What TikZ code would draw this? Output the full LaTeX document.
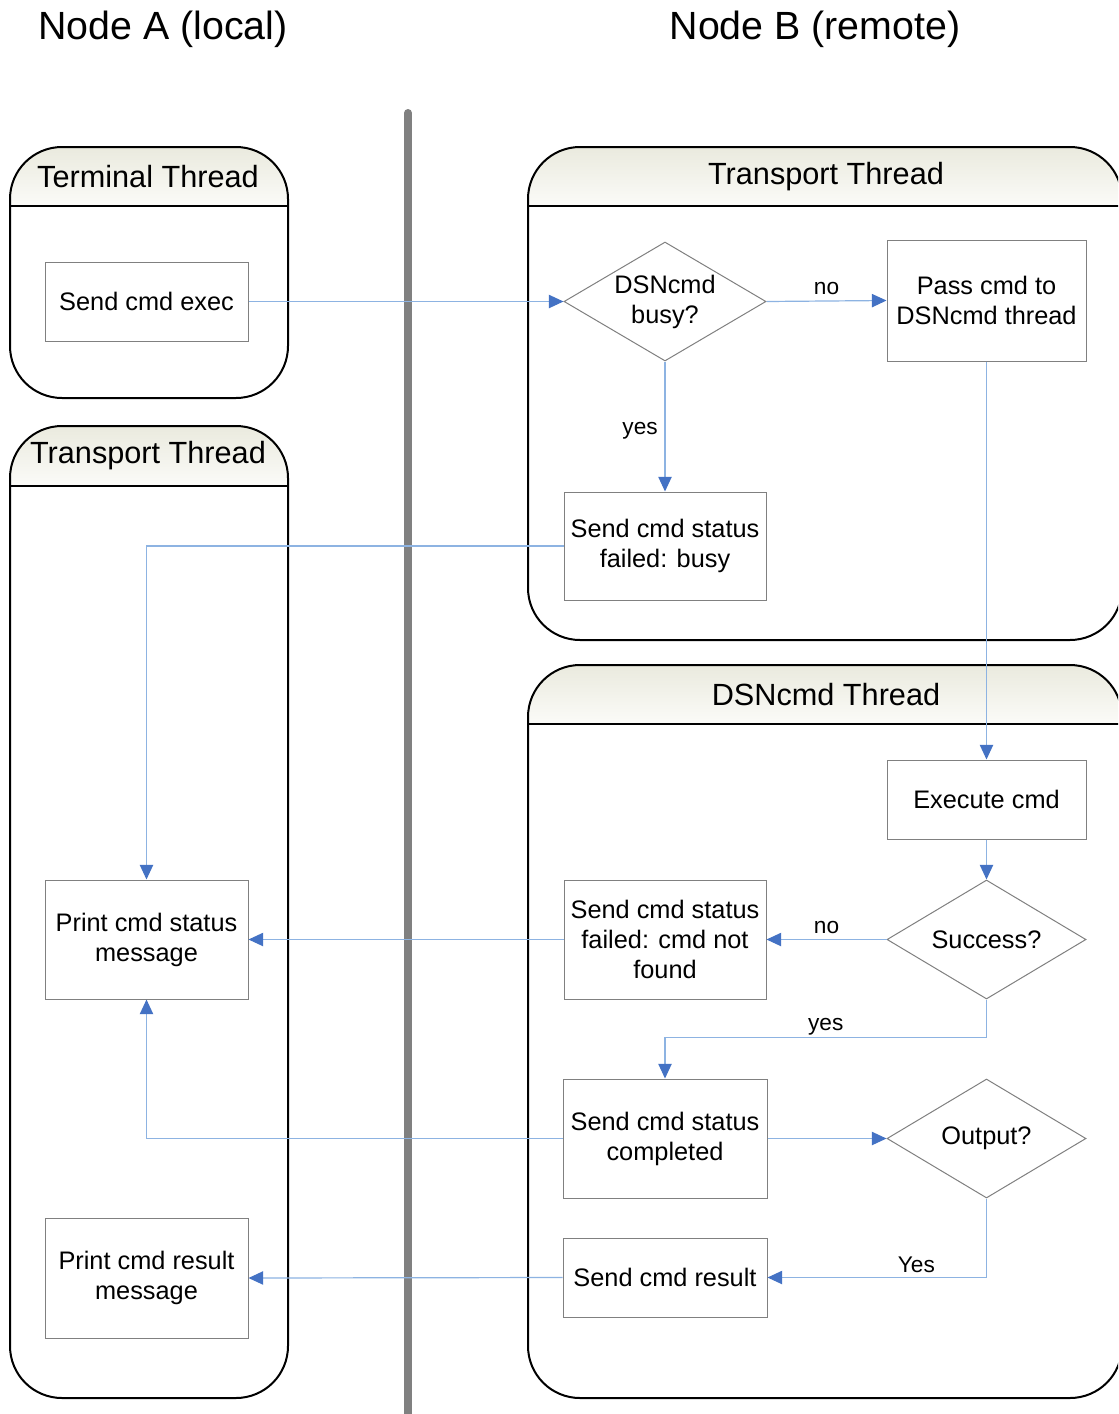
\documentclass[tikz,border=0pt]{standalone}
\usepackage{fontspec}
\setmainfont{Liberation Sans}
\usetikzlibrary{shapes.geometric,arrows.meta}
\definecolor{lineblue}{RGB}{141,179,226}
\definecolor{tipblue}{RGB}{68,114,196}
\definecolor{boxgray}{RGB}{128,128,128}
\definecolor{bargray}{RGB}{128,128,128}
\definecolor{hdrtop}{RGB}{234,234,222}
\definecolor{hdrbot}{RGB}{251,251,248}
\newcommand{\lanebox}[5]{%
  \begin{scope}
    \clip[rounded corners=39pt] (#1,#2) rectangle (#3,#4);
    \shade[top color=hdrtop,bottom color=hdrbot] (#1,#2) rectangle (#3,#5);
  \end{scope}
  \draw[line width=1.5pt,rounded corners=39pt] (#1,#2) rectangle (#3,#4);
  \draw[line width=1.5pt] (#1,#5) -- (#3,#5);
}
\begin{document}
\begin{tikzpicture}[x=0.75pt,y=-0.75pt,
  stepbox/.style={draw=boxgray,line width=0.75pt,fill=white,align=center,inner sep=1pt,
    font=\fontsize{19}{22.5}\selectfont},
  decision/.style={diamond,draw=boxgray,line width=0.75pt,fill=white,align=center,inner sep=0pt,
    aspect=1.68,font=\fontsize{19}{22.5}\selectfont},
  flow/.style={draw=lineblue,line width=0.9pt,-{Triangle[length=11pt,width=10pt,color=tipblue]}},
  lbl/.style={font=\fontsize{17}{20}\selectfont,inner sep=1pt,text=black},
  lanetitle/.style={font=\fontsize{23}{27}\selectfont},
  sidetitle/.style={font=\fontsize{29.5}{34}\selectfont}
]
\useasboundingbox (0,0) rectangle (1118,1414);
\clip (0,0) rectangle (1118,1414);
\fill[white] (0,0) rectangle (1118,1414);

% titles
\node[sidetitle] (ta) at (163,29) {Node A (local)};
\node[sidetitle] (tb) at (815,29) {Node B (remote)};

% separator
\draw[line width=6pt,bargray,line cap=round] (408,113) -- (408,1430);

% lanes
\lanebox{10}{147}{288}{398}{206}
\lanebox{10}{426}{288}{1398}{486}
\lanebox{528}{147}{1122}{640}{206}
\lanebox{528}{665}{1122}{1398}{724}
\node[lanetitle] (l1) at (148,177) {Terminal Thread};
\node[lanetitle] (l2) at (148,456) {Transport Thread};
\node[lanetitle] (l3) at (826,177) {Transport Thread};
\node[lanetitle] (l4) at (826,695) {DSNcmd Thread};

% nodes
\node[stepbox,minimum width=152.25pt,minimum height=59.25pt] (exec) at (146.5,301.5) {Send cmd exec};
\node[decision,minimum width=151.5pt,minimum height=89.25pt] (busy) at (665,301.5) {DSNcmd\\busy?};
\node[stepbox,minimum width=149.25pt,minimum height=90.75pt] (pass) at (986.5,300.5) {Pass cmd to\\DSNcmd thread};
\node[stepbox,minimum width=151.5pt,minimum height=81pt] (sbusy) at (665,546) {Send cmd status\\failed: busy};
\node[stepbox,minimum width=149.25pt,minimum height=59.25pt] (execcmd) at (986.5,799.5) {Execute cmd};
\node[decision,minimum width=149.25pt,minimum height=89.25pt] (success) at (986.5,939.5) {Success?};
\node[stepbox,minimum width=151.5pt,minimum height=89.25pt] (notfound) at (665,939.5) {Send cmd status\\failed: cmd not\\found};
\node[stepbox,minimum width=152.25pt,minimum height=89.25pt] (pstat) at (146.5,939.5) {Print cmd status\\message};
\node[stepbox,minimum width=153pt,minimum height=89.25pt] (completed) at (665,1138.5) {Send cmd status\\completed};
\node[decision,minimum width=149.25pt,minimum height=89.25pt] (output) at (986.5,1138.5) {Output?};
\node[stepbox,minimum width=153pt,minimum height=59.25pt] (sendres) at (665,1277.5) {Send cmd result};
\node[stepbox,minimum width=152.25pt,minimum height=90pt] (pres) at (146.5,1278) {Print cmd result\\message};

% connectors
\draw[flow] (exec.east) -- (busy.west);
\draw[flow] (busy.east) -- node[lbl,above=3pt] (lno1) {no} (pass.west);
\draw[flow] (busy.south) -- node[lbl,left=4pt,yshift=-3pt] (lyes1) {yes} (sbusy.north);
\draw[flow] (sbusy.west) -| (pstat.north);
\draw[flow] (pass.south) -- (execcmd.north);
\draw[flow] (execcmd.south) -- (success.north);
\draw[flow] (success.west) -- node[lbl,above=3pt] (lno2) {no} (notfound.east);
\draw[flow] (notfound.west) -- (pstat.east);
\draw[flow] (success.south) -- ++(0,38) -| node[lbl,above=0pt,pos=0.25] (lyes2) {yes} (completed.north);
\draw[flow] (completed.west) -| (pstat.south);
\draw[flow] (completed.east) -- (output.west);
\draw[flow] (output.south) |- node[lbl,above=2pt,pos=0.66] (lyes3) {Yes} (sendres.east);
\draw[flow] (sendres.west) -- (pres.east);
\end{tikzpicture}
\end{document}
